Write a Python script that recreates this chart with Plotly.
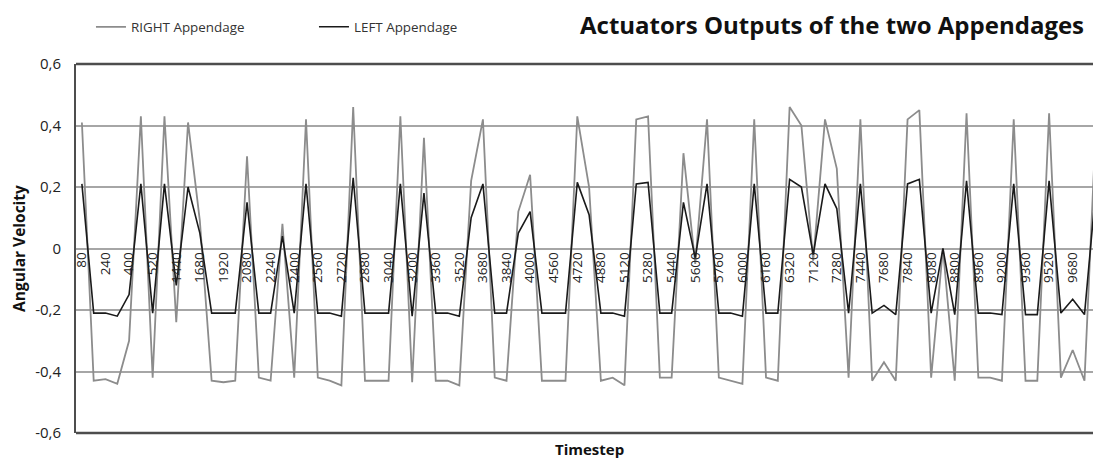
import plotly.graph_objects as go

# x tick labels (every other category is labelled)
tick_labels = ["80", "240", "400", "520", "1440", "1680", "1920", "2080", "2240", "2400",
               "2560", "2720", "2880", "3040", "3200", "3360", "3520", "3680", "3840", "4000",
               "4560", "4720", "4880", "5120", "5280", "5440", "5600", "5760", "6000", "6160",
               "6320", "7120", "7280", "7440", "7680", "7840", "8080", "8800", "8960", "9200",
               "9360", "9520", "9680", "10000"]

right_appendage = [0.41, -0.43, -0.425, -0.44, -0.30, 0.43, -0.42, 0.43, -0.24, 0.41,
                   0.09, -0.43, -0.435, -0.43, 0.30, -0.42, -0.43, 0.08, -0.42, 0.42,
                   -0.42, -0.43, -0.445, 0.46, -0.43, -0.43, -0.43, 0.43, -0.435, 0.36,
                   -0.43, -0.43, -0.445, 0.22, 0.42, -0.42, -0.43, 0.12, 0.24, -0.43,
                   -0.43, -0.43, 0.43, 0.20, -0.43, -0.42, -0.445, 0.42, 0.43, -0.42,
                   -0.42, 0.31, -0.05, 0.42, -0.42, -0.43, -0.44, 0.42, -0.42, -0.43,
                   0.46, 0.40, -0.04, 0.42, 0.26, -0.42, 0.42, -0.43, -0.37, -0.43,
                   0.42, 0.45, -0.42, 0.0, -0.43, 0.44, -0.42, -0.42, -0.43, 0.42,
                   -0.43, -0.43, 0.44, -0.42, -0.33, -0.43, 0.43]

left_appendage = [0.21, -0.21, -0.21, -0.22, -0.15, 0.21, -0.21, 0.21, -0.12, 0.20,
                  0.05, -0.21, -0.21, -0.21, 0.15, -0.21, -0.21, 0.04, -0.21, 0.21,
                  -0.21, -0.21, -0.22, 0.23, -0.21, -0.21, -0.21, 0.21, -0.22, 0.18,
                  -0.21, -0.21, -0.22, 0.10, 0.21, -0.21, -0.21, 0.05, 0.12, -0.21,
                  -0.21, -0.21, 0.215, 0.11, -0.21, -0.21, -0.22, 0.21, 0.215, -0.21,
                  -0.21, 0.15, -0.03, 0.21, -0.21, -0.21, -0.22, 0.21, -0.21, -0.21,
                  0.225, 0.20, -0.02, 0.21, 0.13, -0.21, 0.21, -0.21, -0.185, -0.215,
                  0.21, 0.225, -0.21, 0.0, -0.215, 0.22, -0.21, -0.21, -0.215, 0.21,
                  -0.215, -0.215, 0.22, -0.21, -0.165, -0.215, 0.21]

y_tick_vals = [-0.6, -0.4, -0.2, 0, 0.2, 0.4, 0.6]
y_tick_text = ["-0,6", "-0,4", "-0,2", "0", "0,2", "0,4", "0,6"]

x_idx = list(range(len(right_appendage)))
tick_vals = x_idx[::2]

FONT = "Open Sans"
W, H = 1093, 451  # page body has an 8px margin

fig = go.Figure()
fig.add_trace(go.Scatter(x=x_idx, y=right_appendage, mode="lines", name="RIGHT Appendage",
                         line=dict(color="#8c8c8c", width=1.8)))
fig.add_trace(go.Scatter(x=x_idx, y=left_appendage, mode="lines", name="LEFT Appendage",
                         line=dict(color="#1a1a1a", width=1.6)))

fig.update_layout(
    width=W, height=H,
    margin=dict(l=68, r=0, t=56, b=26),
    paper_bgcolor="white", plot_bgcolor="white",
    font=dict(family=FONT, color="#222"),
    showlegend=True,
    legend=dict(orientation="h", x=0.0146, xanchor="left", y=1.1, yanchor="middle",
                font=dict(size=13.4, family=FONT, color="#333"),
                entrywidth=178, entrywidthmode="pixels",
                bgcolor="rgba(0,0,0,0)"),
    xaxis=dict(range=[-0.5, 86.4], tickmode="array", tickvals=tick_vals,
               ticktext=tick_labels, tickangle=-90, anchor="free", position=0.5,
               showgrid=False, zeroline=False, showline=False, ticks="",
               tickfont=dict(size=13.5, family=FONT, color="#222")),
    yaxis=dict(range=[-0.6, 0.6], tickmode="array", tickvals=y_tick_vals, ticktext=y_tick_text,
               showgrid=True, gridcolor="#a6a6a6", gridwidth=2,
               zeroline=True, zerolinecolor="#a6a6a6", zerolinewidth=2,
               showline=True, linecolor="#4d4d4d", linewidth=2,
               ticks="", ticklabelstandoff=10,
               tickfont=dict(size=15, family=FONT, color="#222"),
               title=dict(text="<b>Angular Velocity</b>", font=dict(size=15.5, family=FONT, color="#111"),
                          standoff=8)),
)

# chart title
fig.add_annotation(text="<b>Actuators Outputs of the two Appendages</b>",
                   xref="paper", yref="paper", x=0.9844, y=1 + (56 - 16.5) / 369,
                   xanchor="right", yanchor="middle", showarrow=False, borderpad=0,
                   font=dict(size=24, family=FONT, color="#111"))

# plot-area border (top and bottom)
for yy in (0, 1):
    fig.add_shape(type="line", xref="paper", yref="paper", x0=0, x1=1, y0=yy, y1=yy,
                  line=dict(color="#4d4d4d", width=2.5), layer="above")

fig.add_annotation(text="<b>Timestep</b>", xref="paper", yref="paper", x=0.501, y=-0.043,
                   xanchor="center", yanchor="middle", showarrow=False,
                   font=dict(size=15, family=FONT, color="#111"))

fig.write_html("out.html")
